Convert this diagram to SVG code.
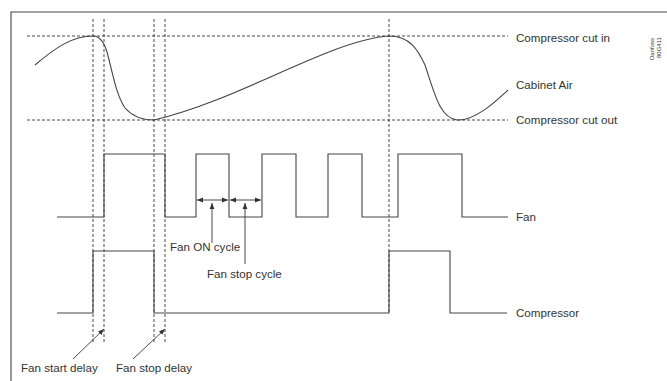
<svg xmlns="http://www.w3.org/2000/svg" width="667" height="381" viewBox="0 0 667 381">
<style>
text{font-family:"Liberation Sans",Arial,sans-serif;font-size:11.6px;fill:#333}
.dash{stroke:#333;stroke-width:0.9;stroke-dasharray:3,2;fill:none}
.ln{stroke:#444;stroke-width:1.1;fill:none}
.thin{stroke:#333;stroke-width:0.9;fill:none}
</style>
<defs>
<marker id="ah" viewBox="0 0 10 10" refX="10" refY="5" markerWidth="6" markerHeight="6" orient="auto-start-reverse" markerUnits="userSpaceOnUse">
<path d="M0,1 L10,5 L0,9 z" fill="#333"/>
</marker>
</defs>
<rect width="667" height="381" fill="#fff"/>
<g id="frame"><path class="ln" d="M11,381 V12 H667"/></g>
<g id="gridlines">
<path class="dash" d="M27,36 H508 M27,120 H508"/>
<path class="dash" d="M93,19 V343 M104,19 V343 M154,19 V343 M165,19 V343 M389,19 V312"/>
</g>
<g id="cabinet-air"><path class="ln" d="M35,65 C55,48 72,36 93,36 C100,36 104,42 107,52 C112,70 116,95 125,108 C133,117 143,120 154,120 C240,100 330,40 389,36 C410,36 418,50 425,65 C435,95 440,118 457,120 C475,121 495,102 508,90"/></g>
<g id="fan-signal"><path class="ln" d="M57,217 H104 V154 H165 V217 H196 V154 H229 V217 H262 V154 H296 V217 H328 V154 H362 V217 H398 V154 H462 V217 H508"/></g>
<g id="compressor-signal"><path class="ln" d="M57,313 H93 V251 H154 V313 H389 V251 H450 V313 H507"/></g>
<g id="connectors">
<path class="thin" marker-start="url(#ah)" marker-end="url(#ah)" d="M197,200 H228"/>
<path class="thin" marker-start="url(#ah)" marker-end="url(#ah)" d="M230,200 H261"/>
<path class="thin" marker-end="url(#ah)" d="M212,243 V203"/>
<path class="thin" marker-end="url(#ah)" d="M245,264 V203"/>
<path class="thin" marker-end="url(#ah)" d="M73,359 L104,329"/>
<path class="thin" marker-end="url(#ah)" d="M133,359 L165,329"/>
</g>
<g id="labels">
<text x="516" y="42">Compressor cut in</text>
<text x="516" y="89">Cabinet Air</text>
<text x="516" y="124">Compressor cut out</text>
<text x="516" y="221">Fan</text>
<text x="516" y="317">Compressor</text>
<text x="170" y="251">Fan ON cycle</text>
<text x="207" y="278">Fan stop cycle</text>
<text x="21" y="372">Fan start delay</text>
<text x="116" y="372">Fan stop delay</text>
<text transform="translate(654,60) rotate(-90)" style="font-size:6px">Danfoss</text>
<text transform="translate(661,58) rotate(-90)" style="font-size:6px">80G411</text>
</g>
</svg>
